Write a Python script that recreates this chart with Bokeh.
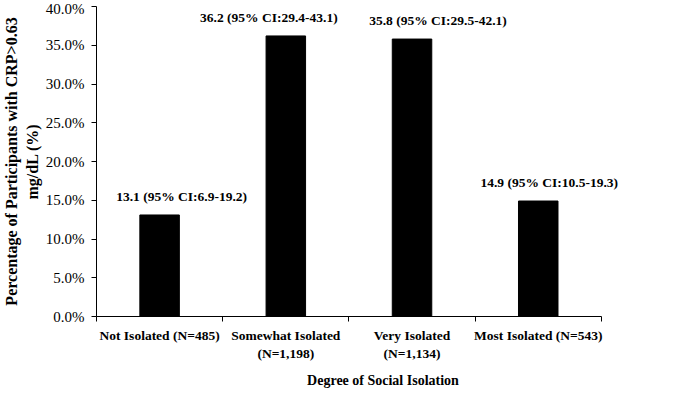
import numpy as np
from bokeh.plotting import figure
from bokeh.models import Range1d, FixedTicker, PrintfTickFormatter, ColumnDataSource
from bokeh.core.properties import value
from bokeh.embed import file_html
from bokeh.resources import INLINE

categories = ["Not Isolated (N=485)", "Somewhat Isolated\n(N=1,198)",
              "Very Isolated\n(N=1,134)", "Most Isolated (N=543)"]
percent = [13.1, 36.2, 35.8, 14.9]
ci_labels = ["13.1 (95% CI:6.9-19.2)", "36.2 (95% CI:29.4-43.1)",
             "35.8 (95% CI:29.5-42.1)", "14.9 (95% CI:10.5-19.3)"]
y_ticks = [0, 5, 10, 15, 20, 25, 30, 35, 40]

# label pixel offsets (style)
label_dx = [22, -17, 26, 11]

FONT = "Liberation Serif"
xs = list(np.arange(len(categories)) + 0.5)

p = figure(width=669, height=390, output_backend="svg", toolbar_location=None,
           x_range=Range1d(0, 4.54), y_range=Range1d(0, 40),
           min_border_left=86, min_border_top=6, min_border_right=0, min_border_bottom=0)
p.outline_line_color = None
p.xgrid.visible = False
p.ygrid.visible = False

src = ColumnDataSource(dict(x=xs, top=percent, label=ci_labels, dx=label_dx))
p.vbar(x="x", top="top", width=0.313, bottom=0, source=src,
       fill_color="black", line_color="black")
p.text(x="x", y="top", text="label", x_offset="dx", y_offset=-11, source=src,
       text_align="center", text_baseline="bottom",
       text_font=value(FONT), text_font_style="bold", text_font_size="13.5px",
       text_color="black")

# x axis
xa = p.xaxis[0]
xa.ticker = FixedTicker(ticks=xs, minor_ticks=[0, 1, 2, 3, 4])
xa.major_label_overrides = {x: c for x, c in zip(xs, categories)}
xa.bounds = (0, 4)
xa.major_tick_out = 0
xa.major_tick_in = 0
xa.minor_tick_out = 5
xa.minor_tick_in = 0
xa.major_label_standoff = 6
xa.major_label_text_font = FONT
xa.major_label_text_font_style = "bold"
xa.major_label_text_font_size = "13.5px"
xa.major_label_text_color = "black"
xa.axis_label = "Degree of Social Isolation"
xa.axis_label_text_font = FONT
xa.axis_label_text_font_style = "bold"
xa.axis_label_text_font_size = "14px"
xa.axis_label_text_color = "black"
xa.axis_label_standoff = 9
xa.axis_line_color = "black"
xa.minor_tick_line_color = "black"

# y axis
ya = p.yaxis[0]
ya.ticker = FixedTicker(ticks=y_ticks, minor_ticks=[])
ya.formatter = PrintfTickFormatter(format="%.1f%%")
ya.bounds = (0, 40)
ya.major_tick_out = 5
ya.major_tick_in = 0
ya.major_label_standoff = 7
ya.major_label_text_font = FONT
ya.major_label_text_font_size = "15px"
ya.major_label_text_color = "black"
ya.axis_label = "Percentage of Participants with CRP>0.63\nmg/dL (%)"
ya.axis_label_text_font = FONT
ya.axis_label_text_font_style = "bold"
ya.axis_label_text_font_size = "16px"
ya.axis_label_text_color = "black"
ya.axis_label_standoff = 2
ya.axis_line_color = "black"
ya.major_tick_line_color = "black"

open("out.html", "w").write(file_html(p, INLINE))
